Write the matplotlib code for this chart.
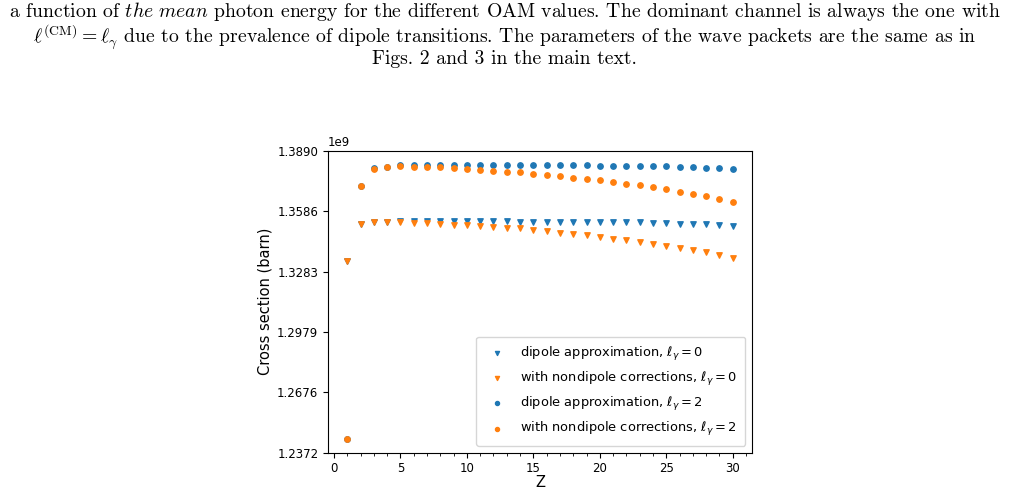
import numpy as np
import matplotlib
matplotlib.use("Agg")
import matplotlib.pyplot as plt
from matplotlib.ticker import MultipleLocator

Z = list(range(1, 31))

# cross sections in units of 1e9 barn
dip_l0 = [1.3337, 1.3522, 1.3530, 1.3533, 1.3535, 1.3535, 1.3535, 1.3535, 1.3535, 1.3535,
          1.3535, 1.3535, 1.3535, 1.3534, 1.3534, 1.3534, 1.3534, 1.3534, 1.3532, 1.3532,
          1.3531, 1.3531, 1.3530, 1.3527, 1.3527, 1.3523, 1.3523, 1.3520, 1.3517, 1.3510]
nondip_l0 = [1.3337, 1.3522, 1.3530, 1.3533, 1.3533, 1.3527, 1.3527, 1.3523, 1.3518, 1.3515,
             1.3512, 1.3508, 1.3503, 1.3500, 1.3492, 1.3485, 1.3478, 1.3472, 1.3465, 1.3457,
             1.3448, 1.3441, 1.3433, 1.3424, 1.3414, 1.3403, 1.3391, 1.3379, 1.3366, 1.3351]
dip_l2 = [1.2441, 1.3716, 1.3803, 1.3811, 1.3821, 1.3821, 1.3821, 1.3821, 1.3821, 1.3821,
          1.3820, 1.3820, 1.3820, 1.3820, 1.3819, 1.3819, 1.3818, 1.3818, 1.3817, 1.3816,
          1.3816, 1.3815, 1.3814, 1.3813, 1.3812, 1.3810, 1.3809, 1.3806, 1.3802, 1.3797]
nondip_l2 = [1.2441, 1.3716, 1.3798, 1.3811, 1.3813, 1.3811, 1.3811, 1.3808, 1.3805, 1.3800,
             1.3795, 1.3790, 1.3786, 1.3785, 1.3776, 1.3771, 1.3765, 1.3756, 1.3751, 1.3745,
             1.3734, 1.3724, 1.3718, 1.3709, 1.3698, 1.3686, 1.3674, 1.3663, 1.3647, 1.3634]

labels = [r"dipole approximation, $\ell_\gamma = 0$",
          r"with nondipole corrections, $\ell_\gamma = 0$",
          r"dipole approximation, $\ell_\gamma = 2$",
          r"with nondipole corrections, $\ell_\gamma = 2$"]

ylims = (1.2372, 1.3890)

caption = [
    r"a function of $\mathit{the\ mean}$ photon energy for the different OAM values. The dominant channel is always the one with",
    r"$\ell^{(\mathrm{CM})} = \ell_\gamma$ due to the prevalence of dipole transitions. The parameters of the wave packets are the same as in",
    r"Figs. 2 and 3 in the main text.",
]

fig = plt.figure(figsize=(10.09, 4.91), dpi=100)
ax = fig.add_axes([0.3251, 0.0784, 0.4202, 0.6141])

blue, orange = "#1f77b4", "#ff7f0e"
scale = 1e9
ax.scatter(Z, np.array(dip_l0) * scale, marker="v", s=15, color=blue, label=labels[0])
ax.scatter(Z, np.array(nondip_l0) * scale, marker="v", s=15, color=orange, label=labels[1])
ax.scatter(Z, np.array(dip_l2) * scale, marker="o", s=15, color=blue, label=labels[2])
ax.scatter(Z, np.array(nondip_l2) * scale, marker="o", s=15, color=orange, label=labels[3])

ax.set_ylim(ylims[0] * scale, ylims[1] * scale)
ax.set_yticks(np.linspace(ylims[0], ylims[1], 6) * scale)
ax.yaxis.set_major_formatter(matplotlib.ticker.FuncFormatter(lambda v, p: f"{v / scale:.4f}"))
ax.tick_params(axis="both", labelsize=8.5)
ax.text(0.0, 1.005, "1e9", transform=ax.transAxes, fontsize=8.5, ha="left", va="bottom")
ax.xaxis.set_major_locator(MultipleLocator(5))
ax.xaxis.set_minor_locator(MultipleLocator(1))
ax.set_xlabel("Z", fontsize=10.5, labelpad=0)
ax.set_ylabel("Cross section (barn)", fontsize=10.5, labelpad=3)
ax.legend(loc="lower right", scatterpoints=1, fontsize=9.4, markerscale=0.75,
          labelspacing=0.55, handletextpad=0.8, borderpad=0.6)

ys = [0.976, 0.926, 0.880]
for i, line in enumerate(caption):
    fig.text(0.5, ys[i], line, ha="center", va="center", fontsize=14.2,
             family="cmr10", math_fontfamily="cm")

fig.savefig("out.png", dpi=100)
